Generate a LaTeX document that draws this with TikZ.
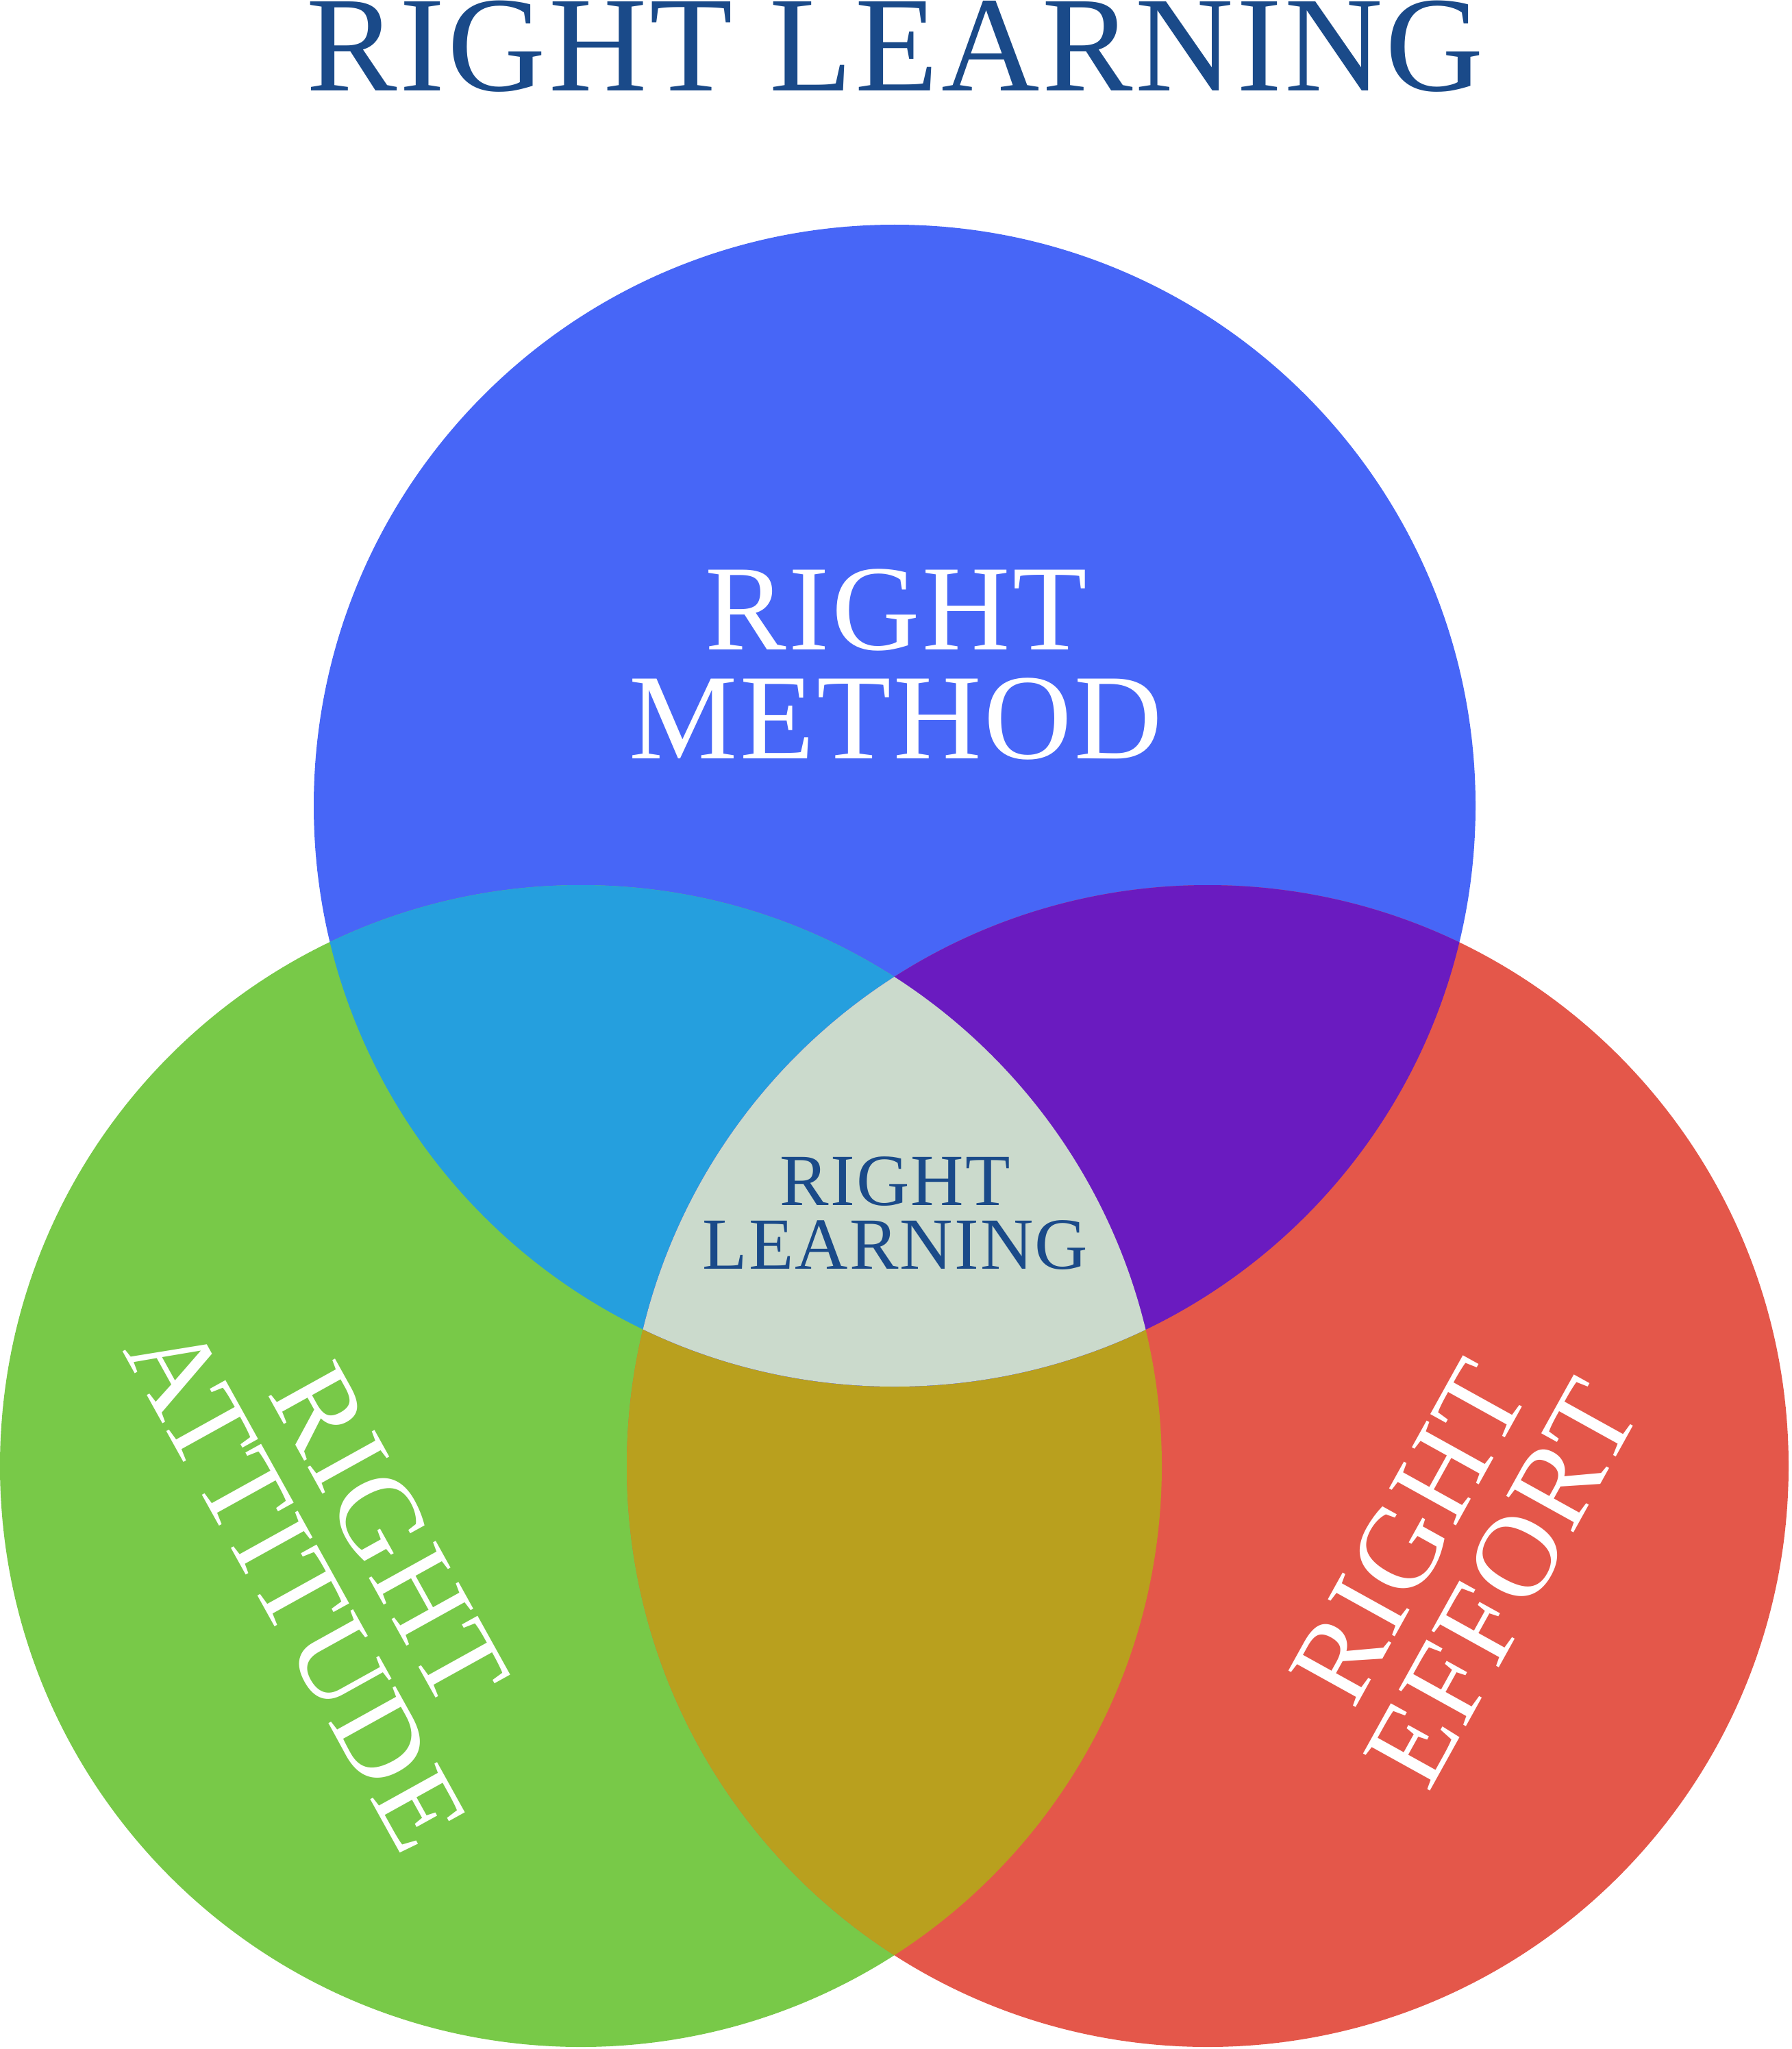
\documentclass[tikz,border=0pt]{standalone}
\usepackage{fontspec}
\setmainfont[LetterSpace=2]{Liberation Serif}

\definecolor{methodblue}{HTML}{4766F7}
\definecolor{attitudegreen}{HTML}{78C948}
\definecolor{effortred}{HTML}{E4574A}
\definecolor{methodattitude}{HTML}{259FDE}
\definecolor{methodeffort}{HTML}{6A1BC0}
\definecolor{attitudeeffort}{HTML}{B9A01E}
\definecolor{allthree}{HTML}{CBDACC}
\definecolor{titleblue}{HTML}{1A4A89}

\begin{document}
\begin{tikzpicture}[
    circtext/.style={inner sep=0pt, align=center, text=white},
    bigtext/.style={font=\fontsize{50.6}{45.2}\selectfont},
    sidetext/.style={font=\fontsize{48.5}{44}\selectfont}
  ]
    \useasboundingbox (0,0) rectangle (26.15,-29.91);
    \def\rad{8.48}

    % Circle centres
    \coordinate (M) at (13.06,-11.76); % method
    \coordinate (A) at (8.48,-21.40);  % attitude
    \coordinate (E) at (17.63,-21.40); % effort

    % Circles
    \fill[methodblue] (M) circle (\rad);
    \fill[attitudegreen] (A) circle (\rad);
    \fill[effortred] (E) circle (\rad);

    % Overlaps
    \begin{scope}
        \clip (A) circle (\rad);
        \fill[attitudeeffort] (E) circle (\rad);
    \end{scope}
    \begin{scope}
        \clip (M) circle (\rad);
        \fill[methodattitude] (A) circle (\rad);
        \fill[methodeffort] (E) circle (\rad);
        \clip (A) circle (\rad);
        \fill[allthree] (E) circle (\rad); % middle
    \end{scope}

    % Title
    \node[inner sep=0pt, anchor=base, text=titleblue, font=\fontsize{56.5}{56.5}\selectfont]
        (title) at (13.07,-1.33) {RIGHT LEARNING};

    % Labels in the circles
    \node[circtext, bigtext] (method) at (13.08,-9.70) {RIGHT\\METHOD};
    \node[circtext, sidetext, rotate=-61] (attitude) at (5.00,-22.78) {RIGHT\\ATTITUDE};
    \node[circtext, sidetext, rotate=61] (effort) at (21.25,-22.74) {RIGHT\\EFFORT};
    \node[circtext, text=titleblue, font=\fontsize{30.5}{26.4}\selectfont]
        (learning) at (13.07,-17.71) {RIGHT\\LEARNING};
\end{tikzpicture}
\end{document}
